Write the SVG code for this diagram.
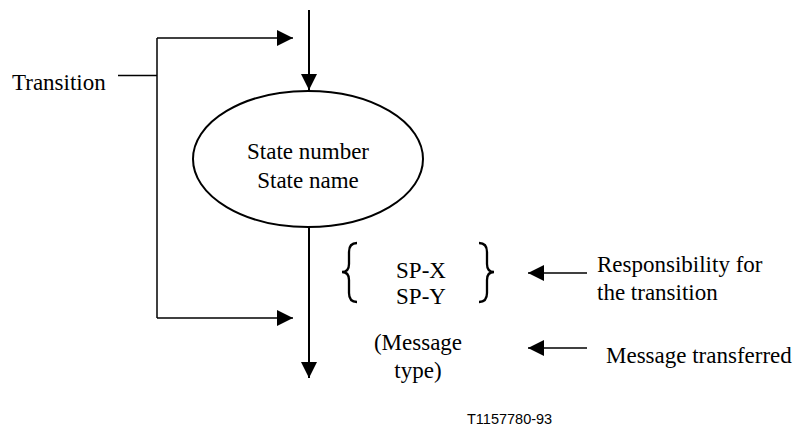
<svg xmlns="http://www.w3.org/2000/svg" width="800" height="428" viewBox="0 0 800 428">
<style>
.t{font-family:"Liberation Serif","Times New Roman",serif;font-size:23px;fill:#000}
.m{text-anchor:middle}
.id{font-family:"Liberation Sans",Arial,sans-serif;font-size:14.5px;fill:#000}
.ln{stroke:#000;stroke-width:1.5;fill:none}
.fl{stroke:#000;stroke-width:2;fill:none}
.br{stroke:#000;stroke-width:2.3;fill:none}
</style>
<defs>
<marker id="ah" markerUnits="userSpaceOnUse" markerWidth="16" markerHeight="16" viewBox="0 0 16 16" refX="16" refY="8" orient="auto">
<path d="M0,0 L16,8 L0,16 Z" fill="#000"/>
</marker>
</defs>
<rect width="800" height="428" fill="#fff"/>
<g id="connectors">
<path class="fl" d="M309,10 L309,90" marker-end="url(#ah)"/>
<path class="fl" d="M309,227 L309,378" marker-end="url(#ah)"/>
<path class="ln" d="M157,38 L157,318"/>
<path class="ln" d="M157,38 L293,38" marker-end="url(#ah)"/>
<path class="ln" d="M157,318 L293,318" marker-end="url(#ah)"/>
<path class="ln" d="M118,75.5 L157,75.5"/>
<path class="ln" d="M587,273 L528,273" marker-end="url(#ah)"/>
<path class="ln" d="M587,348 L528,348" marker-end="url(#ah)"/>
</g>
<g id="transition-label">
<text class="t" x="12" y="90">Transition</text>
</g>
<g id="state">
<ellipse cx="308" cy="159" rx="115" ry="68" fill="#fff" stroke="#000" stroke-width="2"/>
<text class="t m" x="308" y="159">State number</text>
<text class="t m" x="308" y="188">State name</text>
</g>
<g id="responsibility">
<path class="br" d="M357,243 Q349,243 349,252 L349,264 Q349,272 342,272 Q349,272 349,280 L349,293 Q349,302 357,302"/>
<path class="br" d="M479,243 Q487,243 487,252 L487,264 Q487,272 494,272 Q487,272 487,280 L487,293 Q487,302 479,302"/>
<text class="t m" x="421" y="278">SP-X</text>
<text class="t m" x="421" y="304">SP-Y</text>
</g>
<g id="message-type">
<text class="t m" x="418" y="350">(Message</text>
<text class="t m" x="418" y="378">type)</text>
</g>
<g id="responsibility-label">
<text class="t" x="597" y="272">Responsibility for</text>
<text class="t" x="597" y="300">the transition</text>
</g>
<g id="message-label">
<text class="t" x="606" y="363">Message transferred</text>
</g>
<g id="figure-id">
<text class="id" x="467" y="424">T1157780-93</text>
</g>
</svg>
